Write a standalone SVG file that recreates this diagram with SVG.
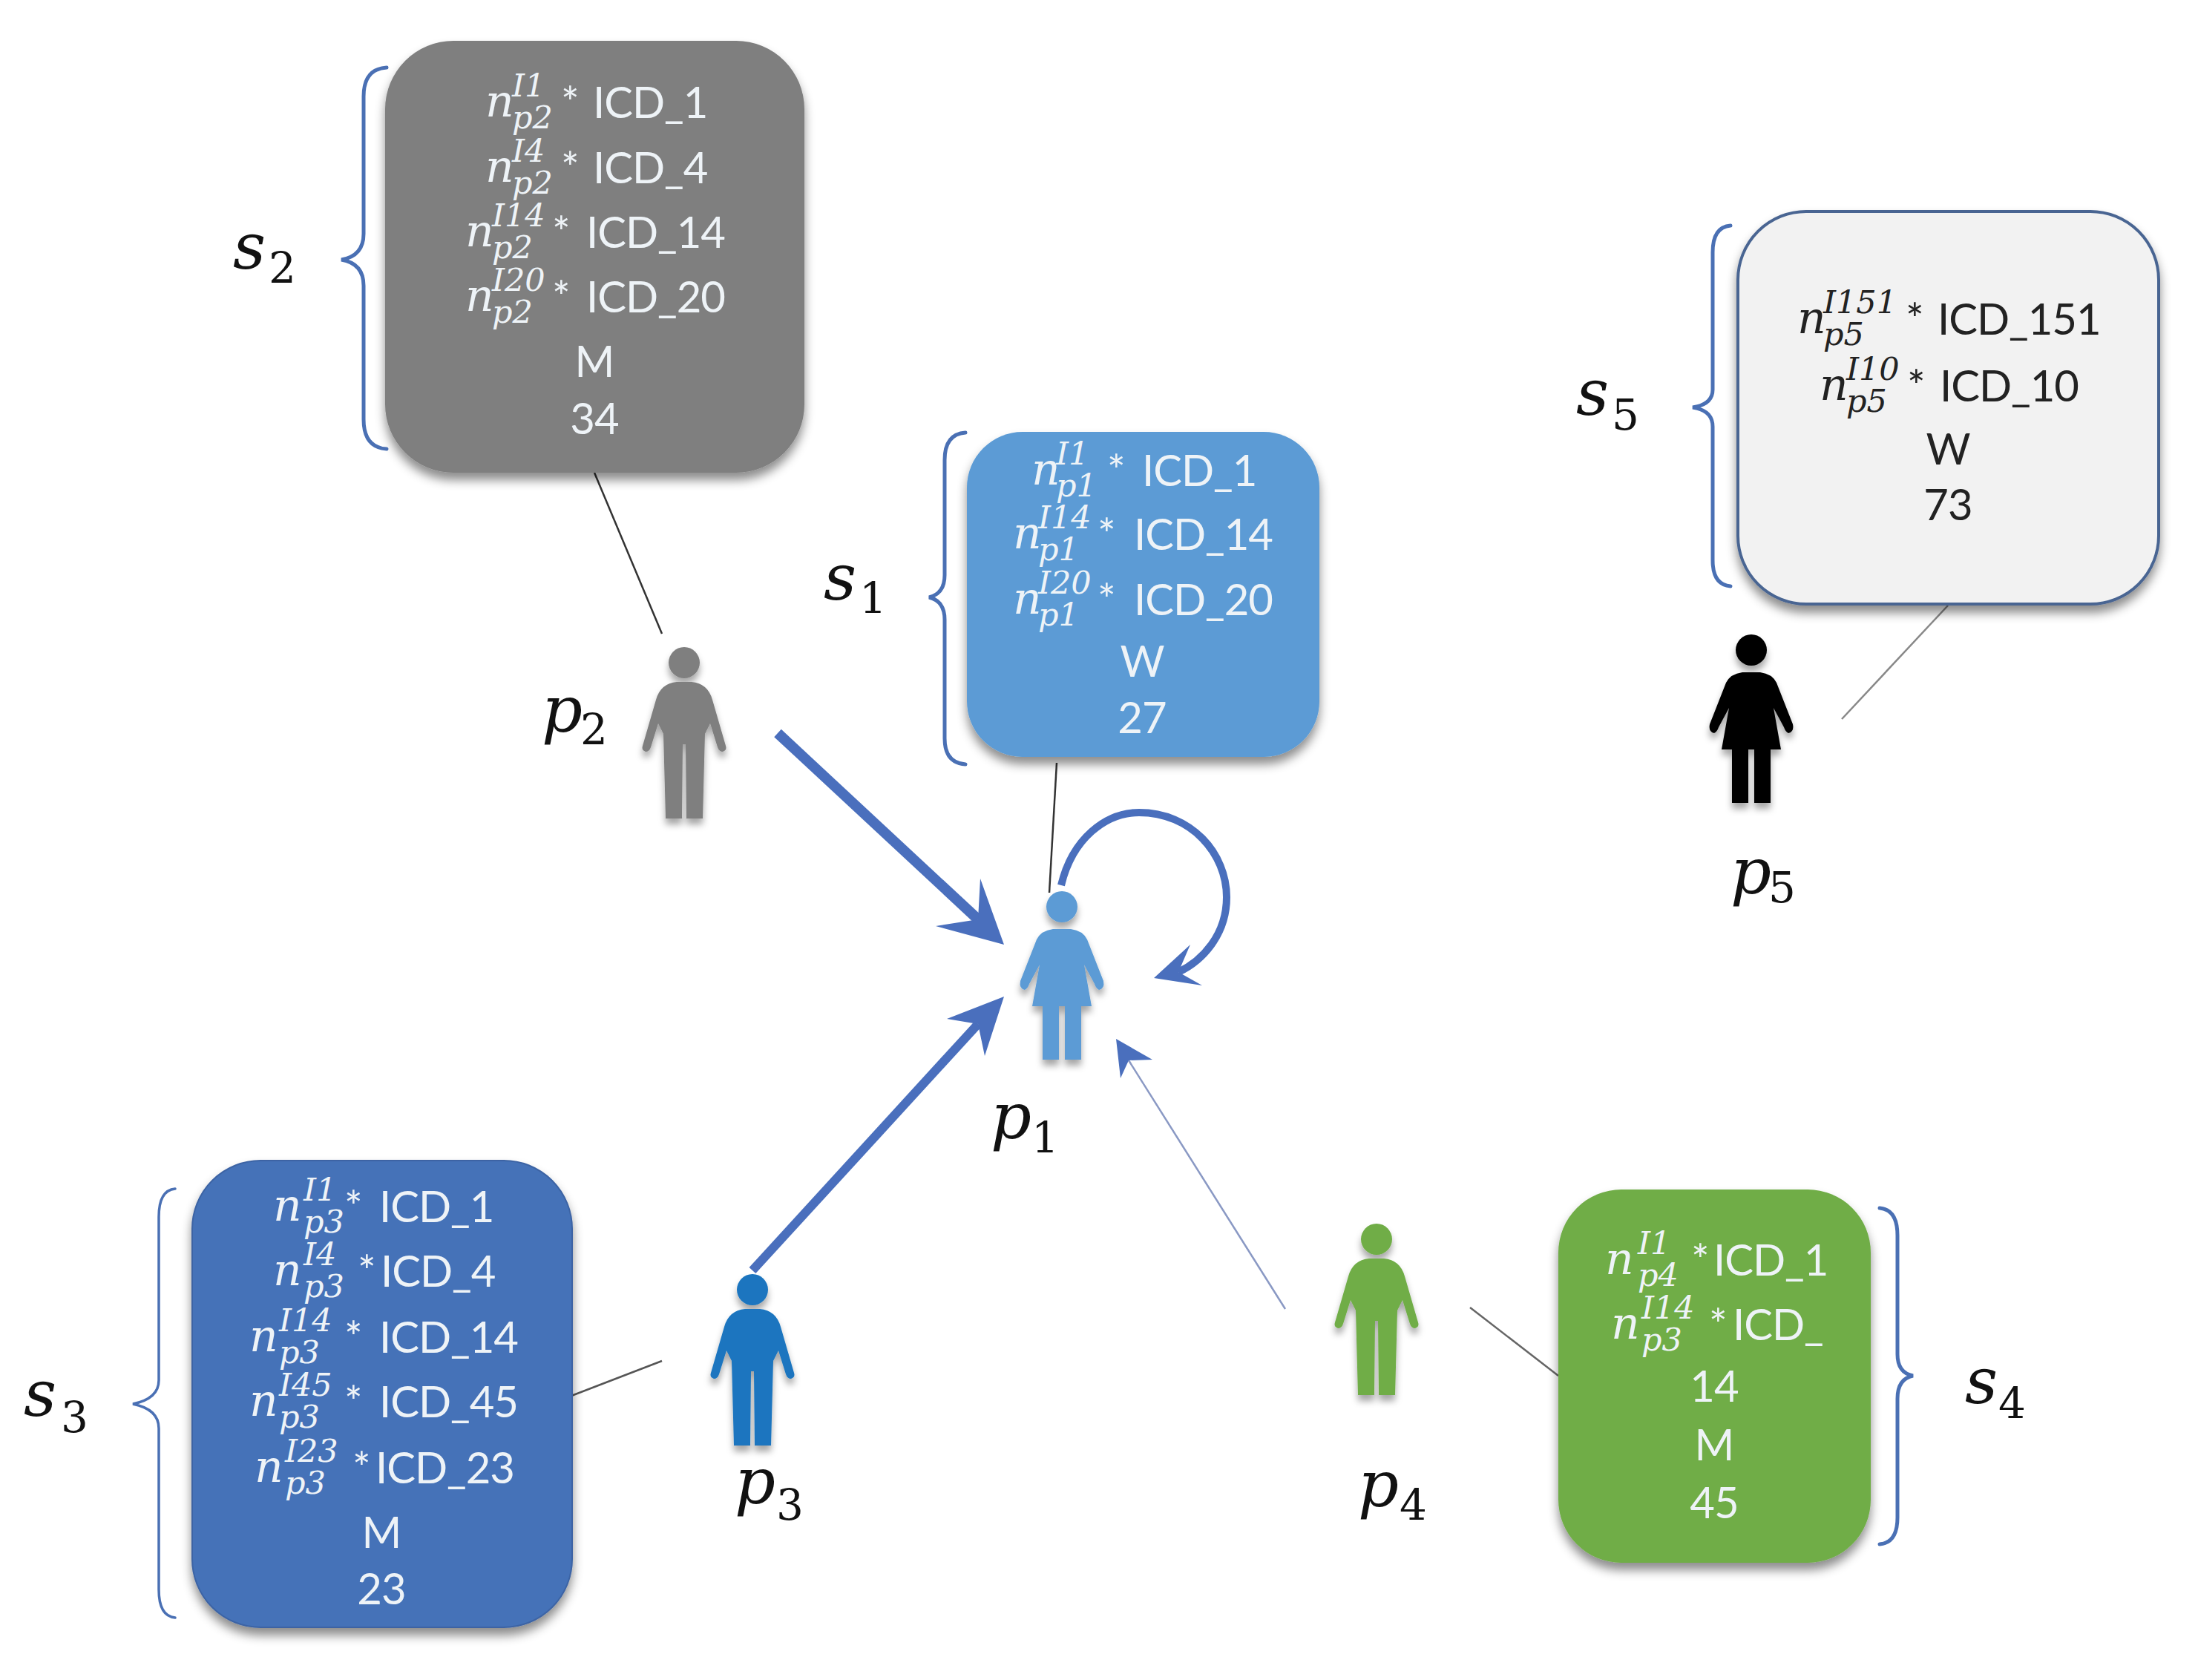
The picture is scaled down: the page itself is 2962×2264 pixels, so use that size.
<svg xmlns="http://www.w3.org/2000/svg" width="2962" height="2264" viewBox="0 0 2962 2264">
<style>
text{font-family:"Lato","Liberation Sans",sans-serif;font-size:58px;letter-spacing:-1px}
.w text{fill:#eef3f7}
.d text{fill:#222}
tspan.n{font-family:"DejaVu Serif",serif;font-style:italic;font-size:60px;letter-spacing:0}
tspan.i{font-family:"DejaVu Serif",serif;font-style:italic;font-size:43px;letter-spacing:0}
.m{text-anchor:middle}
tspan.s{font-family:"DejaVu Serif",serif;font-style:italic;font-size:86px;letter-spacing:0;fill:#111}
tspan.u{font-family:"DejaVu Serif",serif;font-size:58px;letter-spacing:0;fill:#111}
.box{filter:url(#sh)}
.fig{filter:url(#sf)}
.br{fill:none;stroke:#4a70b4;stroke-width:5;stroke-linecap:round}
.tie{fill:none;stroke:#333;stroke-width:2.5}
.ar{fill:none;stroke:#4a6fbd}
.hd{fill:#4a6fbd}
</style>
<defs>
<filter id="sh" x="-10%" y="-10%" width="120%" height="125%"><feDropShadow dx="0" dy="10" stdDeviation="7" flood-color="#000" flood-opacity=".45"/></filter>
<filter id="sf" x="-30%" y="-10%" width="160%" height="125%"><feDropShadow dx="0" dy="8" stdDeviation="5" flood-color="#000" flood-opacity=".35"/></filter>
<g id="man"><ellipse cx="0" cy="0" rx="21" ry="21"/><path d="M-10 26L10 26Q32 28 38 50L56 112Q58 118 52 120Q47 120 45 114L35 82L28 96L25 210L3 210L2 110L-2 110L-3 210L-25 210L-28 96L-35 82L-45 114Q-47 120-52 120Q-58 118-56 112L-38 50Q-32 28-10 26Z"/></g>
<g id="woman"><ellipse cx="0" cy="0" rx="21" ry="21"/><path d="M-12 30L12 30Q28 32 34 44L56 100Q58 110 50 112Q46 110 44 104L30 78L40 134L26 134L26 206L4 206L4 134L-4 134L-4 206L-26 206L-26 134L-40 134L-30 78L-44 104Q-46 110-50 112Q-58 110-56 100L-34 44Q-28 32-12 30Z"/></g>
</defs>
<rect width="2962" height="2264" fill="#fff"/>

<g id="connectors">
<path class="tie" d="M801 637L892 854"/>
<path class="tie" d="M1424 1028L1414 1203"/>
<path class="tie" style="stroke:#888" d="M2625 816L2482 969"/>
<path class="tie" style="stroke:#555" d="M770 1881L892 1834"/>
<path class="tie" style="stroke:#666" d="M1981 1762L2100 1854"/>
<path class="ar" stroke-width="14" d="M1048 988L1318 1239"/>
<path class="hd" d="M1353 1273L1321 1184L1318 1239L1261 1248Z"/>
<path class="ar" stroke-width="12" d="M1014 1712L1318 1380"/>
<path class="hd" d="M1353 1343L1276 1373L1318 1380L1327 1423Z"/>
<path class="ar" stroke-width="2.5" style="stroke:#8a99c4" d="M1732 1764L1521 1429"/>
<path class="hd" d="M1504 1400L1553 1428L1521 1429L1510 1453Z"/>
<path class="ar" stroke-width="10" d="M1430 1193C1445 1130 1490 1095 1535 1095C1605 1095 1653 1150 1653 1209C1653 1260 1620 1295 1588 1310"/>
<path class="hd" d="M1555 1318L1604 1273L1588 1310L1620 1328Z"/>
</g>

<g id="node-p2" class="w">
<rect class="box" x="519" y="55" width="565" height="582" rx="92" fill="#7f7f7f"/>
<path class="br" d="M521 91Q490 93 490 130L490 315Q490 345 460 350Q490 355 490 385L490 565Q490 603 521 605"/>
<text x="654" y="157"><tspan class="n">n</tspan><tspan class="i" x="690" y="130">I1</tspan><tspan class="i" x="690" y="173">p2</tspan><tspan x="756" y="159">*</tspan><tspan x="799">ICD_1</tspan></text>
<text x="654" y="245"><tspan class="n">n</tspan><tspan class="i" x="690" y="218">I4</tspan><tspan class="i" x="690" y="261">p2</tspan><tspan x="756" y="247">*</tspan><tspan x="799">ICD_4</tspan></text>
<text x="627" y="332"><tspan class="n">n</tspan><tspan class="i" x="663" y="305">I14</tspan><tspan class="i" x="663" y="348">p2</tspan><tspan x="744" y="334">*</tspan><tspan x="790">ICD_14</tspan></text>
<text x="627" y="419"><tspan class="n">n</tspan><tspan class="i" x="663" y="392">I20</tspan><tspan class="i" x="663" y="435">p2</tspan><tspan x="744" y="421">*</tspan><tspan x="790">ICD_20</tspan></text>
<text class="m" x="801" y="508">M</text><text class="m" x="801" y="585">34</text>
<text x="314" y="362"><tspan class="s">s</tspan><tspan class="u" x="362" y="381">2</tspan></text>
<use href="#man" x="922" y="893" class="fig" fill="#7f7f7f"/>
<text x="730" y="986"><tspan class="s">p</tspan><tspan class="u" x="782" y="1003">2</tspan></text>
</g>

<g id="node-p1" class="w">
<rect class="box" x="1303" y="582" width="475" height="438" rx="75" fill="#5b9bd5"/>
<path class="br" d="M1301 583Q1273 585 1273 620L1273 775Q1273 800 1252 805Q1273 810 1273 835L1273 995Q1273 1028 1301 1030"/>
<text x="1390" y="653"><tspan class="n">n</tspan><tspan class="i" x="1423" y="626">I1</tspan><tspan class="i" x="1423" y="669">p1</tspan><tspan x="1492" y="655">*</tspan><tspan x="1539">ICD_1</tspan></text>
<text x="1365" y="739"><tspan class="n">n</tspan><tspan class="i" x="1399" y="712">I14</tspan><tspan class="i" x="1399" y="755">p1</tspan><tspan x="1479" y="741">*</tspan><tspan x="1528">ICD_14</tspan></text>
<text x="1365" y="827"><tspan class="n">n</tspan><tspan class="i" x="1399" y="800">I20</tspan><tspan class="i" x="1399" y="843">p1</tspan><tspan x="1479" y="829">*</tspan><tspan x="1528">ICD_20</tspan></text>
<text class="m" x="1539" y="912">W</text><text class="m" x="1539" y="988">27</text>
<text x="1110" y="808"><tspan class="s">s</tspan><tspan class="u" x="1158" y="826">1</tspan></text>
<use href="#woman" x="1431" y="1222" class="fig" fill="#5b9bd5"/>
<text x="1335" y="1534"><tspan class="s">p</tspan><tspan class="u" x="1390" y="1553">1</tspan></text>
</g>

<g id="node-p5" class="d">
<rect class="box" x="2342" y="285" width="567" height="529" rx="92" fill="#f2f2f2" stroke="#4a6592" stroke-width="4"/>
<path class="br" d="M2332 304Q2308 306 2308 340L2308 525Q2308 545 2281 549Q2308 553 2308 575L2308 755Q2308 788 2332 790"/>
<text x="2422" y="449"><tspan class="n">n</tspan><tspan class="i" x="2457" y="422">I151</tspan><tspan class="i" x="2457" y="465">p5</tspan><tspan x="2568" y="451">*</tspan><tspan x="2611">ICD_151</tspan></text>
<text x="2452" y="539"><tspan class="n">n</tspan><tspan class="i" x="2488" y="512">I10</tspan><tspan class="i" x="2488" y="555">p5</tspan><tspan x="2570" y="541">*</tspan><tspan x="2614">ICD_10</tspan></text>
<text class="m" x="2625" y="626">W</text><text class="m" x="2625" y="701">73</text>
<text x="2124" y="559"><tspan class="s">s</tspan><tspan class="u" x="2172" y="579">5</tspan></text>
<use href="#woman" x="2360" y="876" class="fig" fill="#000"/>
<text x="2332" y="1204"><tspan class="s">p</tspan><tspan class="u" x="2383" y="1216">5</tspan></text>
</g>

<g id="node-p3" class="w">
<rect class="box" x="259" y="1564" width="512" height="629" rx="92" fill="#4472b8" stroke="#3c64a4" stroke-width="2"/>
<path class="br" style="stroke-width:3.5" d="M236 1602Q214 1604 214 1640L214 1860Q214 1885 179 1892Q214 1899 214 1925L214 2142Q214 2178 236 2180"/>
<text x="368" y="1645"><tspan class="n">n</tspan><tspan class="i" x="409" y="1618">I1</tspan><tspan class="i" x="409" y="1661">p3</tspan><tspan x="464" y="1647">*</tspan><tspan x="511">ICD_1</tspan></text>
<text x="368" y="1732"><tspan class="n">n</tspan><tspan class="i" x="409" y="1705">I4</tspan><tspan class="i" x="409" y="1748">p3</tspan><tspan x="482" y="1734">*</tspan><tspan x="513">ICD_4</tspan></text>
<text x="336" y="1821"><tspan class="n">n</tspan><tspan class="i" x="376" y="1794">I14</tspan><tspan class="i" x="376" y="1837">p3</tspan><tspan x="464" y="1823">*</tspan><tspan x="511">ICD_14</tspan></text>
<text x="336" y="1908"><tspan class="n">n</tspan><tspan class="i" x="376" y="1881">I45</tspan><tspan class="i" x="376" y="1924">p3</tspan><tspan x="464" y="1910">*</tspan><tspan x="511">ICD_45</tspan></text>
<text x="343" y="1997"><tspan class="n">n</tspan><tspan class="i" x="384" y="1970">I23</tspan><tspan class="i" x="384" y="2013">p3</tspan><tspan x="475" y="1999">*</tspan><tspan x="506">ICD_23</tspan></text>
<text class="m" x="514" y="2086">M</text><text class="m" x="514" y="2162">23</text>
<text x="32" y="1908"><tspan class="s">s</tspan><tspan class="u" x="82" y="1930">3</tspan></text>
<use href="#man" x="1014" y="1738" class="fig" fill="#1a75bf"/>
<text x="990" y="2026"><tspan class="s">p</tspan><tspan class="u" x="1046" y="2048">3</tspan></text>
</g>

<g id="node-p4" class="w">
<rect class="box" x="2100" y="1603" width="421" height="503" rx="85" fill="#70ad47"/>
<path class="br" d="M2533 1628Q2557 1630 2557 1665L2557 1825Q2557 1850 2578 1854Q2557 1858 2557 1885L2557 2045Q2557 2079 2533 2081"/>
<text x="2163" y="1717"><tspan class="n">n</tspan><tspan class="i" x="2207" y="1690">I1</tspan><tspan class="i" x="2207" y="1733">p4</tspan><tspan x="2279" y="1719">*</tspan><tspan x="2309">ICD_1</tspan></text>
<text x="2171" y="1804"><tspan class="n">n</tspan><tspan class="i" x="2212" y="1777">I14</tspan><tspan class="i" x="2212" y="1820">p3</tspan><tspan x="2303" y="1806">*</tspan><tspan x="2335">ICD_</tspan></text>
<text class="m" x="2310" y="1889">14</text><text class="m" x="2310" y="1968">M</text><text class="m" x="2310" y="2046">45</text>
<text x="2648" y="1891"><tspan class="s">s</tspan><tspan class="u" x="2693" y="1911">4</tspan></text>
<use href="#man" x="1855" y="1670" class="fig" fill="#70ad47"/>
<text x="1830" y="2030"><tspan class="s">p</tspan><tspan class="u" x="1886" y="2048">4</tspan></text>
</g>
</svg>
